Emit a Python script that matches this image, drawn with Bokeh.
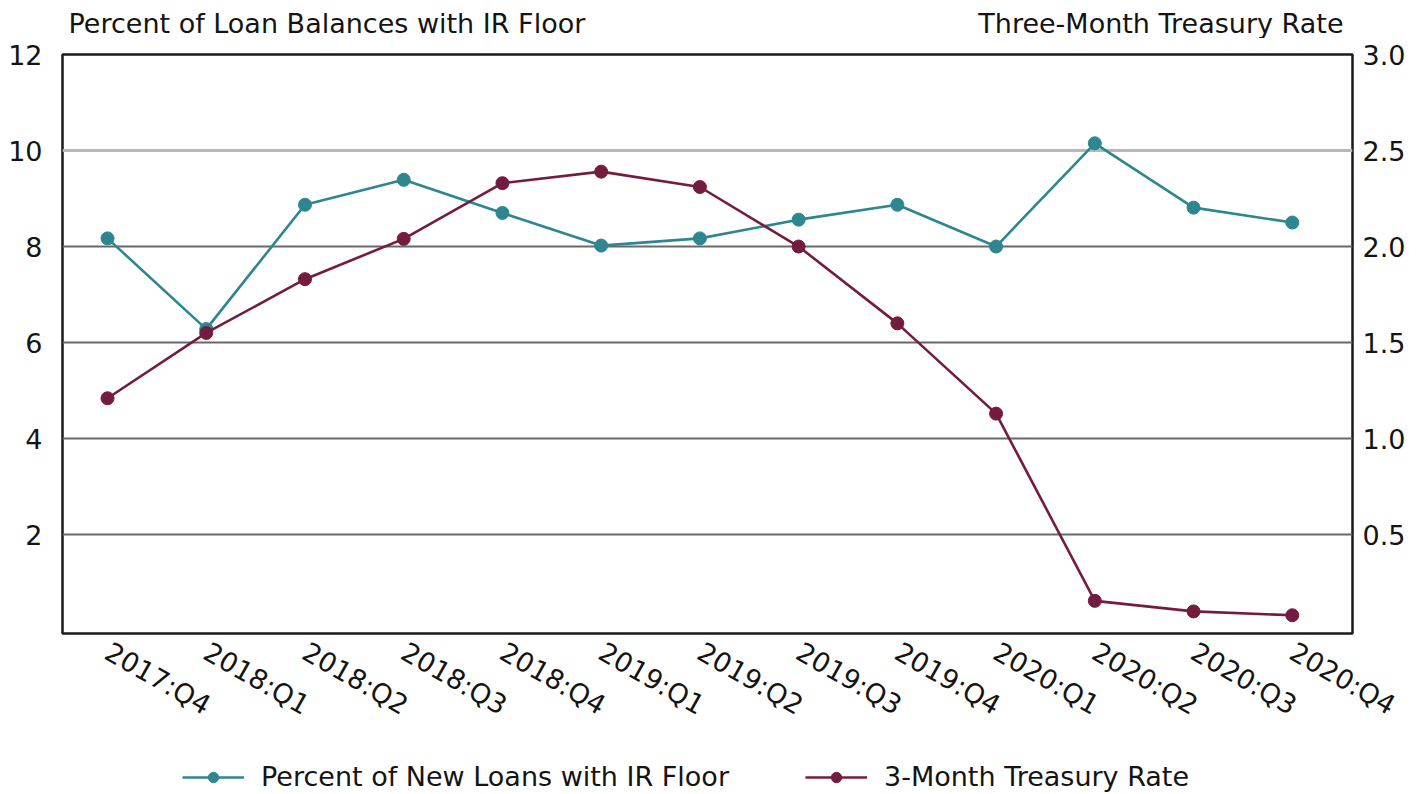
from bokeh.plotting import figure
from bokeh.layouts import column
from bokeh.models import (Range1d, LinearAxis, FixedTicker, Grid, Legend, LegendItem,
                          NumeralTickFormatter)
from bokeh.core.properties import value
from bokeh.embed import file_html
from bokeh.resources import INLINE

quarters = ["2017:Q4", "2018:Q1", "2018:Q2", "2018:Q3", "2018:Q4", "2019:Q1", "2019:Q2",
            "2019:Q3", "2019:Q4", "2020:Q1", "2020:Q2", "2020:Q3", "2020:Q4"]
pct_new_loans_floor = [8.17, 6.28, 8.87, 9.39, 8.70, 8.02, 8.17, 8.56, 8.87, 8.00, 10.15, 8.81, 8.50]
treasury_3m = [1.21, 1.55, 1.83, 2.04, 2.33, 2.39, 2.31, 2.00, 1.60, 1.13, 0.155, 0.10, 0.08]
left_ticks = [2, 4, 6, 8, 10, 12]
right_ticks = [0.5, 1.0, 1.5, 2.0, 2.5, 3.0]
left_title = "Percent of Loan Balances with IR Floor"
right_title = "Three-Month Treasury Rate"
series_names = ["Percent of New Loans with IR Floor", "3-Month Treasury Rate"]

FONT = "DejaVu Sans"
FS = "27px"
TEAL = "#2e8690"
MAROON = "#741c40"
TXT = "#141414"

FRAME_W = 1290
BL, BR = 62, 56

xs = list(range(len(quarters)))
xr = Range1d(-0.456, 12.61)

# ---------- header strip with the two axis titles ----------
h = figure(frame_width=FRAME_W, frame_height=38, x_range=xr, y_range=Range1d(0, 1),
           output_backend="svg", toolbar_location=None,
           min_border_left=BL, min_border_right=BR, min_border_top=0, min_border_bottom=0)
h.axis.visible = False
h.grid.visible = False
h.outline_line_color = None
h.text(x=[xr.start], y=[0.40], text=[left_title], x_offset=6,
       text_font=value(FONT), text_font_size=FS, text_color=TXT,
       text_align="left", text_baseline="middle")
h.text(x=[xr.end], y=[0.40], text=[right_title], x_offset=-9,
       text_font=value(FONT), text_font_size=FS, text_color=TXT,
       text_align="right", text_baseline="middle")

# ---------- main chart ----------
p = figure(frame_width=FRAME_W, frame_height=579, output_backend="svg", toolbar_location=None,
           x_range=xr, y_range=Range1d(-0.06, 12),
           min_border_left=BL, min_border_right=BR, min_border_top=16, min_border_bottom=115)
p.extra_y_ranges = {"right": Range1d(-0.015, 3.0)}

p.outline_line_color = "#1a1a1a"
p.outline_line_width = 2.5

p.xgrid.visible = False
p.ygrid.ticker = FixedTicker(ticks=[2, 4, 6, 8])
p.ygrid.grid_line_color = "#686868"
p.ygrid.grid_line_width = 1.8
p.add_layout(Grid(dimension=1, ticker=FixedTicker(ticks=[10]),
                  grid_line_color="#b8b8b8", grid_line_width=3), "center")

p.xaxis.ticker = FixedTicker(ticks=xs)
p.xaxis.major_label_overrides = {i: q for i, q in enumerate(quarters)}
p.xaxis.major_label_orientation = -0.52
p.xaxis.axis_line_color = None
p.xaxis.major_tick_line_color = None
p.xaxis.minor_tick_line_color = None
p.xaxis.major_label_standoff = 10
p.xaxis.major_label_text_font = FONT
p.xaxis.major_label_text_font_size = FS
p.xaxis.major_label_text_color = TXT

p.yaxis.ticker = FixedTicker(ticks=left_ticks)
p.yaxis.axis_line_color = None
p.yaxis.major_tick_line_color = None
p.yaxis.minor_tick_line_color = None
p.yaxis.major_label_standoff = 14
p.yaxis.major_label_text_font = FONT
p.yaxis.major_label_text_font_size = FS
p.yaxis.major_label_text_color = TXT

ra = LinearAxis(y_range_name="right", ticker=FixedTicker(ticks=right_ticks),
                formatter=NumeralTickFormatter(format="0.0"))
ra.axis_line_color = None
ra.major_tick_line_color = None
ra.minor_tick_line_color = None
ra.major_label_standoff = 4
ra.major_label_text_font = FONT
ra.major_label_text_font_size = FS
ra.major_label_text_color = TXT
p.add_layout(ra, "right")

p.line(xs, pct_new_loans_floor, line_color=TEAL, line_width=2.6)
p.scatter(xs, pct_new_loans_floor, size=13, fill_color=TEAL, line_color=TEAL)
p.line(xs, treasury_3m, line_color=MAROON, line_width=2.6, y_range_name="right")
p.scatter(xs, treasury_3m, size=13, fill_color=MAROON, line_color=MAROON, y_range_name="right")

# ---------- footer strip with the legend ----------
NAN = float("nan")
f = figure(frame_width=FRAME_W, frame_height=46, x_range=Range1d(0, 1), y_range=Range1d(0, 1),
           output_backend="svg", toolbar_location=None,
           min_border_left=BL, min_border_right=BR, min_border_top=0, min_border_bottom=0)
f.axis.visible = False
f.grid.visible = False
f.outline_line_color = None
items = []
for name, col in zip(series_names, [TEAL, MAROON]):
    # legend proxies (no visible data)
    lr = f.line(x=[NAN], y=[NAN], line_color=col, line_width=2.6)
    sr = f.scatter(x=[NAN], y=[NAN], size=13, fill_color=col, line_color=col)
    items.append(LegendItem(label=name, renderers=[lr, sr]))
legend = Legend(items=items, orientation="horizontal", location=(120, 2),
                label_text_font=FONT, label_text_font_size=FS, label_text_color=TXT,
                glyph_width=62, glyph_height=26, label_standoff=17, spacing=76,
                border_line_color=None, background_fill_alpha=0, margin=0, padding=4)
f.add_layout(legend, "center")

layout = column(h, p, f, spacing=0)
open("out.html", "w").write(file_html(layout, INLINE))
